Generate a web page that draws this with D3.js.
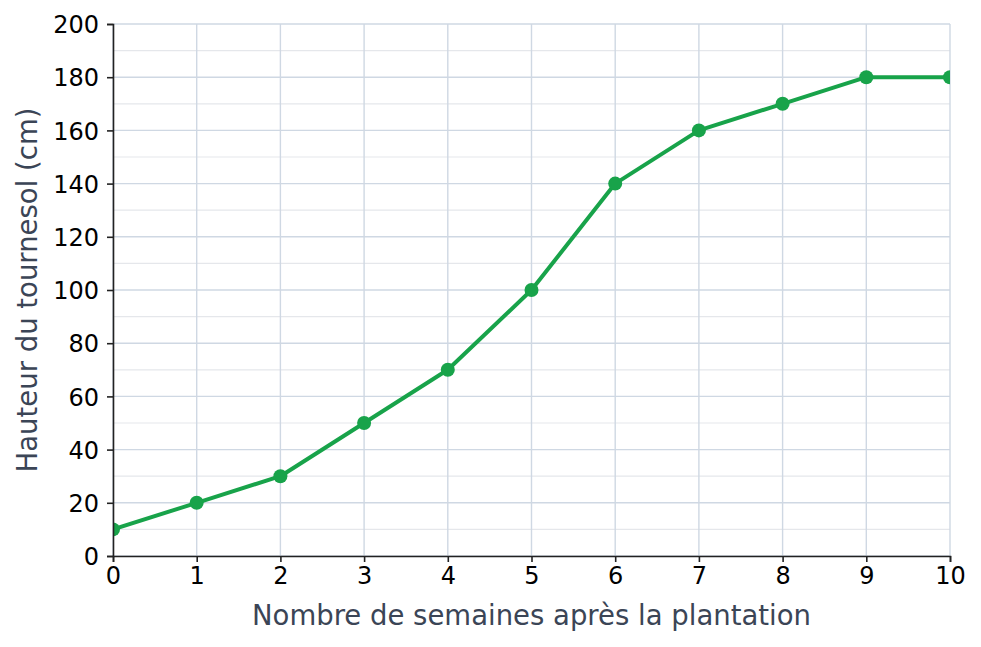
<!DOCTYPE html>
<html>
<head>
<meta charset="utf-8">
<script src="https://cdn.jsdelivr.net/npm/d3@7"></script>
<style>
  body { margin: 0; background: #fff; }
  text { font-family: "DejaVu Sans", sans-serif; }
</style>
</head>
<body>
<svg id="chart"></svg>
<script>
// Data
const weeks = [0, 1, 2, 3, 4, 5, 6, 7, 8, 9, 10];
const heights = [10, 20, 30, 50, 70, 100, 140, 160, 170, 180, 180];
const xTicks = [0, 1, 2, 3, 4, 5, 6, 7, 8, 9, 10];
const yTicks = [0, 20, 40, 60, 80, 100, 120, 140, 160, 180, 200];
const yMinorTicks = [10, 30, 50, 70, 90, 110, 130, 150, 170, 190];

const totalWidth = 981, totalHeight = 647;
const margin = { top: 24, right: 31, bottom: 91, left: 113 };
const width = totalWidth - margin.left - margin.right;
const height = totalHeight - margin.top - margin.bottom;

const svg = d3.select("#chart")
  .attr("width", totalWidth)
  .attr("height", totalHeight);

const g = svg.append("g")
  .attr("transform", `translate(${margin.left},${margin.top})`);

const x = d3.scaleLinear().domain([0, 10]).range([0, width]);
const y = d3.scaleLinear().domain([0, 200]).range([height, 0]);

// minor horizontal grid
g.append("g")
  .selectAll("line")
  .data(yMinorTicks)
  .join("line")
  .attr("x1", 0).attr("x2", width)
  .attr("y1", d => y(d)).attr("y2", d => y(d))
  .attr("stroke", "#e5e7eb")
  .attr("stroke-width", 1.2);

// major grid
g.append("g")
  .selectAll("line")
  .data(yTicks)
  .join("line")
  .attr("x1", 0).attr("x2", width)
  .attr("y1", d => y(d)).attr("y2", d => y(d))
  .attr("stroke", "#cfd8e3")
  .attr("stroke-width", 1.4);

g.append("g")
  .selectAll("line")
  .data(xTicks)
  .join("line")
  .attr("x1", d => x(d)).attr("x2", d => x(d))
  .attr("y1", 0).attr("y2", height)
  .attr("stroke", "#cfd8e3")
  .attr("stroke-width", 1.4);

// clip to plot area
svg.append("defs").append("clipPath")
  .attr("id", "plot-clip")
  .append("rect")
  .attr("width", width)
  .attr("height", height);

const plot = g.append("g").attr("clip-path", "url(#plot-clip)");

const line = d3.line()
  .x((d, i) => x(weeks[i]))
  .y(d => y(d));

plot.append("path")
  .datum(heights)
  .attr("fill", "none")
  .attr("stroke", "#18a34a")
  .attr("stroke-width", 4)
  .attr("stroke-linejoin", "round")
  .attr("d", line);

plot.selectAll("circle")
  .data(heights)
  .join("circle")
  .attr("cx", (d, i) => x(weeks[i]))
  .attr("cy", d => y(d))
  .attr("r", 7)
  .attr("fill", "#18a34a");

// axes
const xAxis = g.append("g")
  .attr("transform", `translate(0,${height})`)
  .call(d3.axisBottom(x).tickValues(xTicks).tickSize(6).tickPadding(5));

const yAxis = g.append("g")
  .call(d3.axisLeft(y).tickValues(yTicks).tickSize(6).tickPadding(8));

[xAxis, yAxis].forEach(a => {
  a.select(".domain").attr("stroke", "#222").attr("stroke-width", 1.6);
  a.selectAll(".tick line").attr("stroke", "#222").attr("stroke-width", 1.6);
  a.selectAll(".tick text")
    .attr("fill", "#000")
    .style("font-size", "24px")
    .style("font-family", "DejaVu Sans, sans-serif");
});
yAxis.selectAll(".tick text").attr("dy", "0.36em");

// axis titles
svg.append("text")
  .attr("x", margin.left + width / 2)
  .attr("y", 625)
  .attr("text-anchor", "middle")
  .attr("fill", "#3b4556")
  .style("font-size", "27.5px")
  .text("Nombre de semaines après la plantation");

svg.append("text")
  .attr("transform", `translate(37,${margin.top + height / 2}) rotate(-90)`)
  .attr("text-anchor", "middle")
  .attr("fill", "#3b4556")
  .style("font-size", "27.5px")
  .text("Hauteur du tournesol (cm)");
</script>
</body>
</html>
